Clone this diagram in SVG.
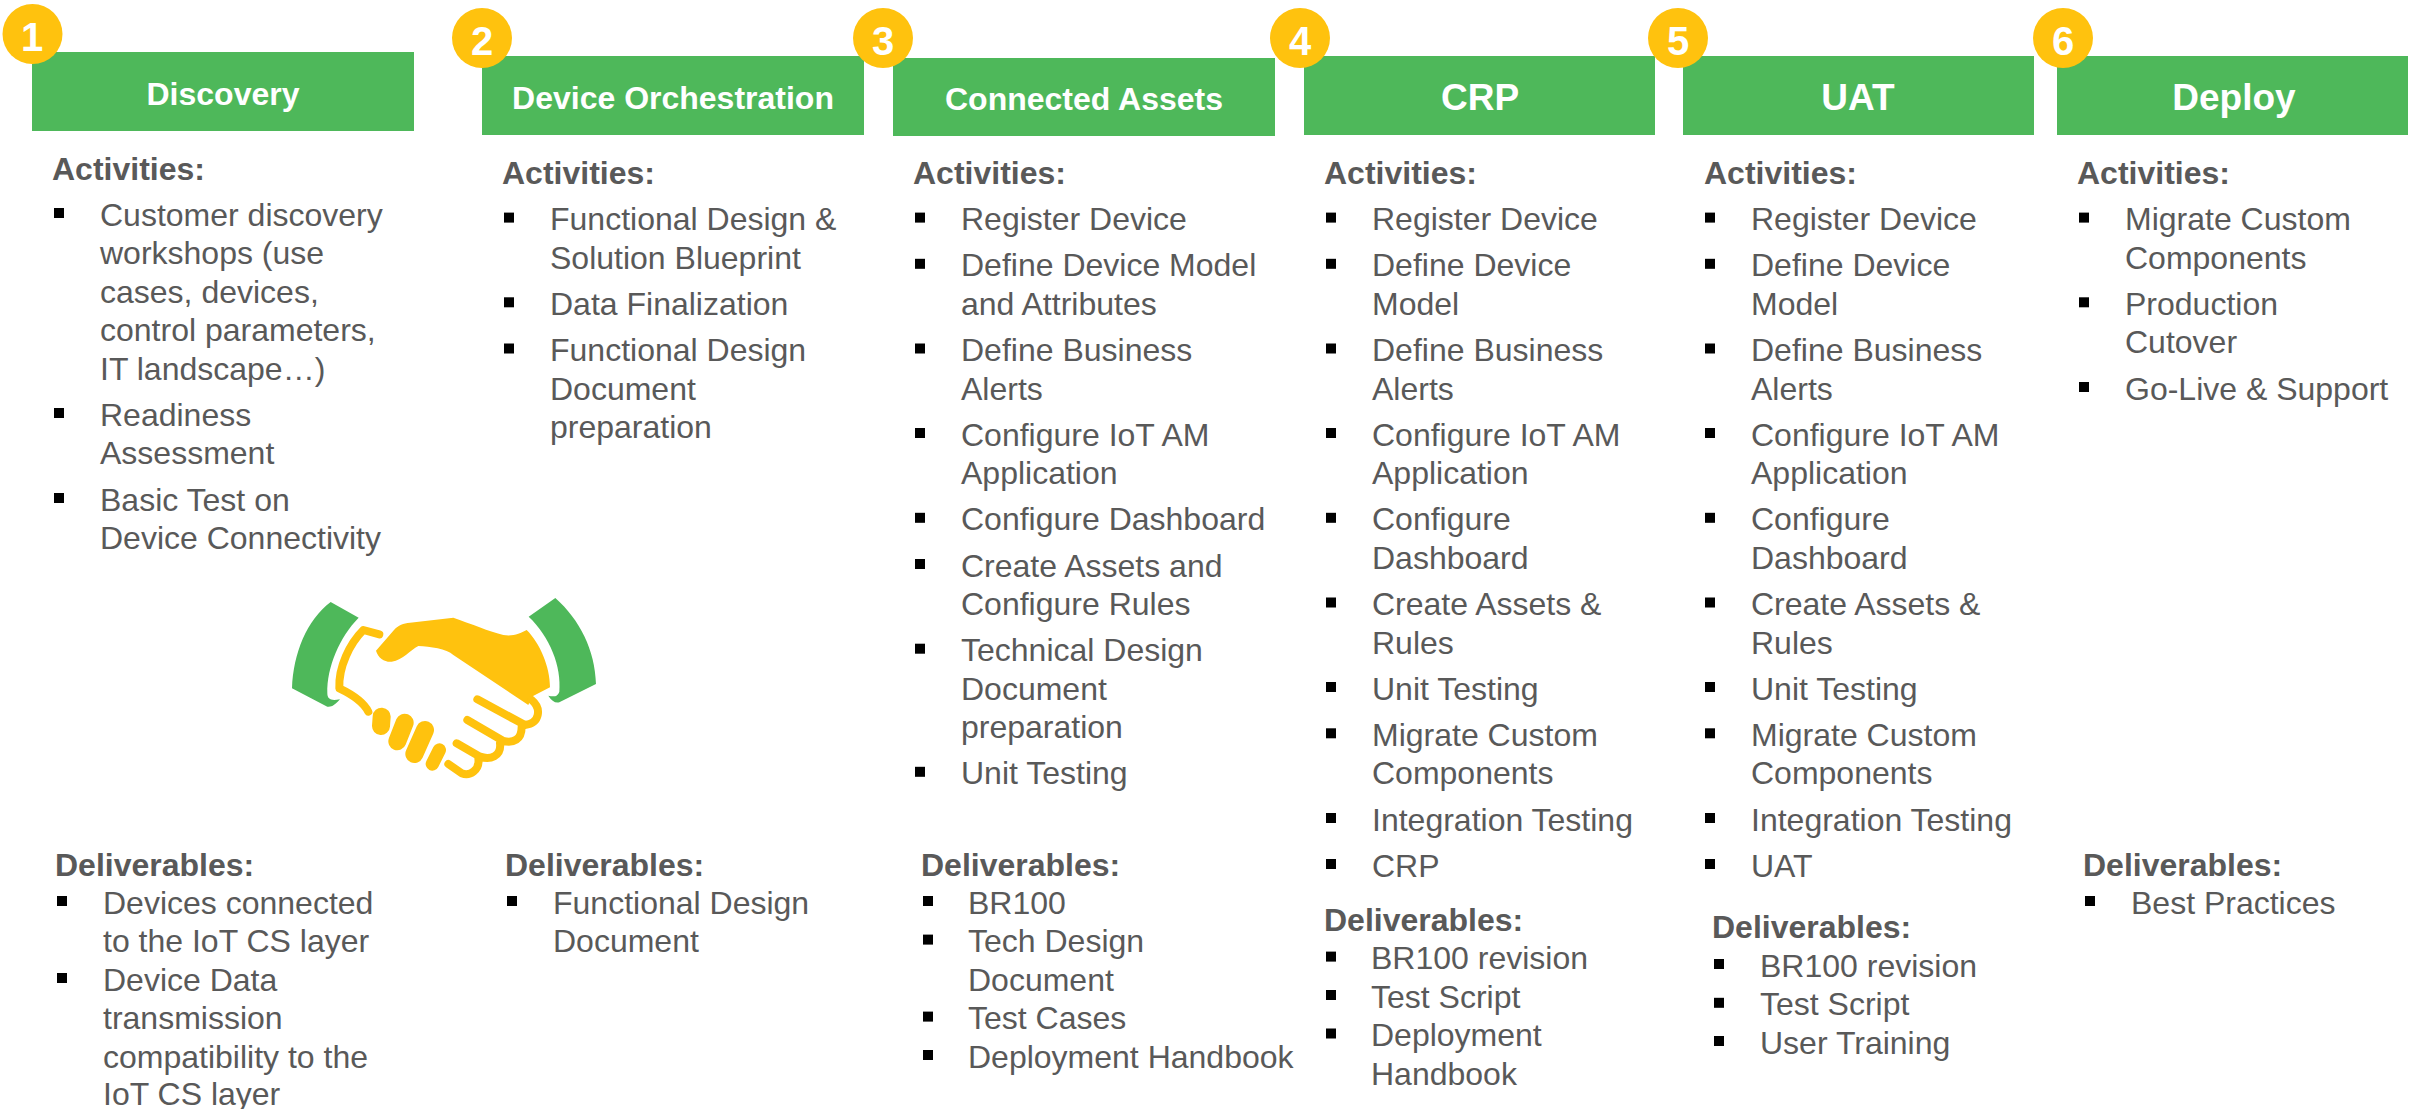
<svg xmlns="http://www.w3.org/2000/svg" width="2414" height="1109" viewBox="0 0 2414 1109">
<style>
text{font-family:"Liberation Sans",Arial,sans-serif;fill:#595959;font-size:32px;transform:translateY(1.5px)}
.h{font-weight:bold}
.t{fill:#fff;font-weight:bold;text-anchor:middle;font-size:32px}
.T{fill:#fff;font-weight:bold;text-anchor:middle;font-size:37px}
.n{fill:#fff;font-weight:bold;text-anchor:middle;font-size:40px}
.b{fill:#4EB85A}
.c{fill:#FFC20E}
.s{fill:#000}
.y{fill:none;stroke:#FFC20E;stroke-width:24;stroke-linecap:round;stroke-linejoin:round}
</style>
<defs><rect id="q" width="10" height="10" class="s"/></defs>
<g id="discovery">
<rect class="b" x="32" y="52" width="382" height="79"/><circle class="c" cx="32.500" cy="34" r="30"/>
<text class="n" x="32" y="49">1</text><text class="t" x="223" y="103">Discovery</text>
<text class="h" x="52" y="178">Activities:</text>
<use href="#q" x="54" y="208"/><text x="100" y="224">Customer discovery</text><text x="100" y="262.500">workshops (use</text><text x="100" y="301">cases, devices,</text><text x="100" y="339.500">control parameters,</text><text x="100" y="378">IT landscape…)</text>
<use href="#q" x="54" y="408"/><text x="100" y="424">Readiness</text><text x="100" y="462.500">Assessment</text>
<use href="#q" x="54" y="493"/><text x="100" y="509">Basic Test on</text><text x="100" y="547">Device Connectivity</text>
<text class="h" x="55" y="874">Deliverables:</text>
<use href="#q" x="57" y="896"/><text x="103" y="912">Devices connected</text><text x="103" y="950.500">to the IoT CS layer</text>
<use href="#q" x="57" y="973"/><text x="103" y="989">Device Data</text><text x="103" y="1027.500">transmission</text><text x="103" y="1066">compatibility to the</text><text x="103" y="1103">IoT CS layer</text>
</g>
<g id="handshake" transform="translate(270 580) scale(.33333)">
<path class="b" d="M66 325C70 220 110 120 182 66L266 113C210 170 170 260 172 340C172 360 185 362 210 358C195 375 185 382 172 380Z"/>
<path class="b" d="M856 54L776 110C840 170 875 260 868 335C862 352 850 350 835 347C845 362 855 370 868 367L978 312C975 210 930 120 856 54Z"/>
<path class="c" d="M318 212L372 150C385 135 400 130 420 128L550 113C600 130 660 155 700 165C730 170 750 160 770 150C810 190 840 260 840 322L785 350L775 375L550 225C530 205 480 200 445 198C420 210 400 240 365 245C345 247 325 235 318 212Z"/>
<path class="y" d="M328 163L280 150C240 190 205 260 208 325C250 345 280 365 295 395" stroke-linecap="butt"/>
<path class="y" d="M785 360C815 385 810 430 765 435L622 358M755 440C755 480 730 490 700 483L592 420M690 490C695 530 660 540 630 530L560 490M625 535C630 570 600 590 575 580L535 552"/>
<path class="y" style="stroke-width:54" d="M335 410L333 438M404 428L382 484M465 450L433 522"/>
<path class="y" style="stroke-width:40" d="M508 510L487 552"/>
</g>
<g id="device-orchestration">
<rect class="b" x="482" y="56" width="382" height="79"/><circle class="c" cx="482" cy="38" r="30"/>
<text class="n" x="482" y="53">2</text><text class="t" x="673" y="107">Device Orchestration</text>
<text class="h" x="502" y="182.400">Activities:</text>
<use href="#q" x="504" y="212.600"/><text x="550" y="228.600">Functional Design &amp;</text><text x="550" y="267">Solution Blueprint</text>
<use href="#q" x="504" y="297.300"/><text x="550" y="313.300">Data Finalization</text>
<use href="#q" x="504" y="343.500"/><text x="550" y="359.500">Functional Design</text><text x="550" y="398">Document</text><text x="550" y="436.400">preparation</text>
<text class="h" x="505" y="874">Deliverables:</text>
<use href="#q" x="507" y="896"/><text x="553" y="912">Functional Design</text><text x="553" y="950.500">Document</text>
</g>
<g id="connected-assets">
<rect class="b" x="893" y="58" width="382" height="78"/><circle class="c" cx="883" cy="38" r="30"/>
<text class="n" x="883" y="53">3</text><text class="t" x="1084" y="108">Connected Assets</text>
<text class="h" x="913" y="182.400">Activities:</text>
<use href="#q" x="915" y="212.600"/><text x="961" y="228.600">Register Device</text>
<use href="#q" x="915" y="258.800"/><text x="961" y="274.800">Define Device Model</text><text x="961" y="313.300">and Attributes</text>
<use href="#q" x="915" y="343.500"/><text x="961" y="359.500">Define Business</text><text x="961" y="398">Alerts</text>
<use href="#q" x="915" y="428"/><text x="961" y="444">Configure IoT AM</text><text x="961" y="482.600">Application</text>
<use href="#q" x="915" y="512.800"/><text x="961" y="528.800">Configure Dashboard</text>
<use href="#q" x="915" y="559"/><text x="961" y="575">Create Assets and</text><text x="961" y="613.500">Configure Rules</text>
<use href="#q" x="915" y="643.700"/><text x="961" y="659.700">Technical Design</text><text x="961" y="698">Document</text><text x="961" y="736.600">preparation</text>
<use href="#q" x="915" y="766.800"/><text x="961" y="782.800">Unit Testing</text>
<text class="h" x="921" y="874">Deliverables:</text>
<use href="#q" x="923" y="896"/><text x="968" y="912">BR100</text>
<use href="#q" x="923" y="934.600"/><text x="968" y="950.600">Tech Design</text><text x="968" y="989">Document</text>
<use href="#q" x="923" y="1011.600"/><text x="968" y="1027.600">Test Cases</text>
<use href="#q" x="923" y="1050"/><text x="968" y="1066">Deployment Handbook</text>
</g>
<g id="crp">
<rect class="b" x="1304" y="56" width="351" height="79"/><circle class="c" cx="1300" cy="38" r="30"/>
<text class="n" x="1300" y="53">4</text><text class="T" x="1480" y="108">CRP</text>
<text class="h" x="1324" y="182.400">Activities:</text>
<use href="#q" x="1326" y="212.600"/><text x="1372" y="228.600">Register Device</text>
<use href="#q" x="1326" y="258.800"/><text x="1372" y="274.800">Define Device</text><text x="1372" y="313.300">Model</text>
<use href="#q" x="1326" y="343.500"/><text x="1372" y="359.500">Define Business</text><text x="1372" y="398">Alerts</text>
<use href="#q" x="1326" y="428"/><text x="1372" y="444">Configure IoT AM</text><text x="1372" y="482.600">Application</text>
<use href="#q" x="1326" y="512.800"/><text x="1372" y="528.800">Configure</text><text x="1372" y="567.300">Dashboard</text>
<use href="#q" x="1326" y="597.500"/><text x="1372" y="613.500">Create Assets &amp;</text><text x="1372" y="652">Rules</text>
<use href="#q" x="1326" y="682"/><text x="1372" y="698">Unit Testing</text>
<use href="#q" x="1326" y="728.300"/><text x="1372" y="744.300">Migrate Custom</text><text x="1372" y="782.800">Components</text>
<use href="#q" x="1326" y="813"/><text x="1372" y="829">Integration Testing</text>
<use href="#q" x="1326" y="859"/><text x="1372" y="875">CRP</text>
<text class="h" x="1324" y="929">Deliverables:</text>
<use href="#q" x="1326" y="951.600"/><text x="1371" y="967.600">BR100 revision</text>
<use href="#q" x="1326" y="990"/><text x="1371" y="1006">Test Script</text>
<use href="#q" x="1326" y="1028.500"/><text x="1371" y="1044.500">Deployment</text><text x="1371" y="1083">Handbook</text>
</g>
<g id="uat">
<rect class="b" x="1683" y="56" width="351" height="79"/><circle class="c" cx="1678" cy="38" r="30"/>
<text class="n" x="1678" y="53">5</text><text class="T" x="1858" y="108">UAT</text>
<text class="h" x="1704" y="182.400">Activities:</text>
<use href="#q" x="1705" y="212.600"/><text x="1751" y="228.600">Register Device</text>
<use href="#q" x="1705" y="258.800"/><text x="1751" y="274.800">Define Device</text><text x="1751" y="313.300">Model</text>
<use href="#q" x="1705" y="343.500"/><text x="1751" y="359.500">Define Business</text><text x="1751" y="398">Alerts</text>
<use href="#q" x="1705" y="428"/><text x="1751" y="444">Configure IoT AM</text><text x="1751" y="482.600">Application</text>
<use href="#q" x="1705" y="512.800"/><text x="1751" y="528.800">Configure</text><text x="1751" y="567.300">Dashboard</text>
<use href="#q" x="1705" y="597.500"/><text x="1751" y="613.500">Create Assets &amp;</text><text x="1751" y="652">Rules</text>
<use href="#q" x="1705" y="682"/><text x="1751" y="698">Unit Testing</text>
<use href="#q" x="1705" y="728.300"/><text x="1751" y="744.300">Migrate Custom</text><text x="1751" y="782.800">Components</text>
<use href="#q" x="1705" y="813"/><text x="1751" y="829">Integration Testing</text>
<use href="#q" x="1705" y="859"/><text x="1751" y="875">UAT</text>
<text class="h" x="1712" y="936">Deliverables:</text>
<use href="#q" x="1714" y="959"/><text x="1760" y="975">BR100 revision</text>
<use href="#q" x="1714" y="997.800"/><text x="1760" y="1013.800">Test Script</text>
<use href="#q" x="1714" y="1036"/><text x="1760" y="1052">User Training</text>
</g>
<g id="deploy">
<rect class="b" x="2057" y="56" width="351" height="79"/><circle class="c" cx="2063" cy="38" r="30"/>
<text class="n" x="2063" y="53">6</text><text class="T" x="2234" y="108">Deploy</text>
<text class="h" x="2077" y="182.400">Activities:</text>
<use href="#q" x="2079" y="212.600"/><text x="2125" y="228.600">Migrate Custom</text><text x="2125" y="267">Components</text>
<use href="#q" x="2079" y="297.300"/><text x="2125" y="313.300">Production</text><text x="2125" y="351.800">Cutover</text>
<use href="#q" x="2079" y="382"/><text x="2125" y="398">Go-Live &amp; Support</text>
<text class="h" x="2083" y="874">Deliverables:</text>
<use href="#q" x="2085" y="896"/><text x="2131" y="912">Best Practices</text>
</g>
</svg>
